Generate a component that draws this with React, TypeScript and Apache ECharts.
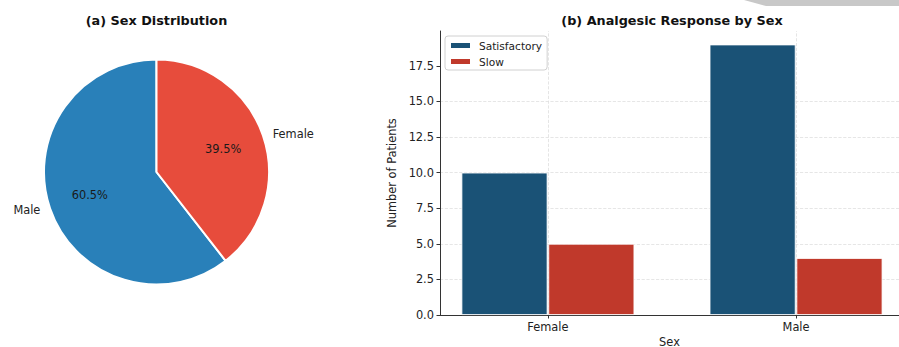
import React, { useEffect, useRef } from 'react';
import * as echarts from 'echarts';

const sexLabels = ['Male', 'Female'];
const sexCounts = [23, 15];
const sexColors = ['#2980b9', '#e74c3c'];

const categories = ['Female', 'Male'];
const satisfactory = [10, 19];
const slow = [5, 4];
const yTicks = [0, 2.5, 5, 7.5, 10, 12.5, 15, 17.5];
const barOffset = 0.175;

const FONT = '"DejaVu Sans", "Liberation Sans", sans-serif';

export default function App() {
  const ref = useRef<HTMLDivElement>(null);
  useEffect(() => {
    if (!ref.current) return;
    const chart = echarts.init(ref.current, undefined, { renderer: 'svg' });
    const total = sexCounts.reduce((a, b) => a + b, 0);
    const pieData = sexLabels.map((n, i) => ({ name: n, value: sexCounts[i], itemStyle: { color: sexColors[i] } }));
    chart.setOption({
      animation: false,
      textStyle: { fontFamily: FONT },
      graphic: [
        {
          type: 'text', x: 156.5, y: 20, z: 10,
          style: { text: '(a) Sex Distribution', fontFamily: FONT, fontWeight: 'bold', fontSize: 12.8, fill: '#111', align: 'center', verticalAlign: 'middle' },
        },
        {
          type: 'text', x: 672, y: 20, z: 10,
          style: { text: '(b) Analgesic Response by Sex', fontFamily: FONT, fontWeight: 'bold', fontSize: 12.8, fill: '#111', align: 'center', verticalAlign: 'middle' },
        },
        {
          type: 'polygon', z: 10,
          shape: { points: [[744, 0], [899, 0], [899, 6], [766, 6]] },
          style: { fill: '#c8c8c8' },
        },
      ],
      legend: {
        data: ['Satisfactory', 'Slow'],
        orient: 'vertical',
        left: 445,
        top: 36,
        icon: 'rect',
        itemWidth: 21,
        itemHeight: 7,
        itemGap: 5,
        padding: [4, 5, 3, 4],
        backgroundColor: '#fff',
        borderColor: '#d0d0d0',
        borderWidth: 1,
        borderRadius: 3,
        textStyle: { fontFamily: FONT, fontSize: 10.6, color: '#222', padding: [0, 0, 0, 3] },
      },
      grid: { left: 440, right: 0, top: 31, bottom: 32, outerBoundsMode: 'none' },
      xAxis: {
        type: 'value',
        min: -0.435,
        max: 1.415,
        name: 'Sex',
        nameLocation: 'middle',
        nameGap: 21,
        nameTextStyle: { fontFamily: FONT, fontSize: 11.4, color: '#222' },
        axisLine: { show: true, onZero: false, lineStyle: { color: '#333', width: 1 } },
        axisTick: { show: true, length: 3.5, lineStyle: { color: '#333' }, customValues: categories.map((_, i) => i) },
        axisLabel: {
          customValues: categories.map((_, i) => i),
          formatter: (v: number) => categories[Math.round(v)] ?? '',
          fontFamily: FONT, fontSize: 11.4, color: '#222', margin: 6,
        },
        splitLine: { show: false },
      },
      yAxis: {
        type: 'value',
        min: 0,
        max: 19.95,
        interval: 2.5,
        name: 'Number of Patients',
        nameLocation: 'middle',
        nameGap: 40,
        nameTextStyle: { fontFamily: FONT, fontSize: 11.4, color: '#222' },
        axisLine: { show: true, onZero: false, lineStyle: { color: '#333', width: 1 } },
        axisTick: { show: true, length: 3.5, lineStyle: { color: '#333' }, customValues: yTicks },
        axisLabel: {
          customValues: yTicks,
          formatter: (v: number) => v.toFixed(1),
          fontFamily: FONT, fontSize: 11.4, color: '#222', margin: 6,
        },
        splitLine: { show: true, showMaxLine: false, lineStyle: { type: 'dashed', color: '#e0e0e0', width: 0.8 } },
      },
      series: [
        {
          type: 'pie',
          center: [156.5, 172],
          radius: 112.5,
          startAngle: 90,
          clockwise: false,
          avoidLabelOverlap: false,
          data: pieData,
          itemStyle: { borderColor: '#fff', borderWidth: 2 },
          label: { show: true, position: 'outside', formatter: '{b}', fontFamily: FONT, fontSize: 11.4, color: '#222' },
          labelLine: { show: false, length: 5, length2: 0 },
          emphasis: { disabled: true },
        },
        {
          type: 'pie',
          center: [156.5, 172],
          radius: [0, 135],
          startAngle: 90,
          clockwise: false,
          silent: true,
          avoidLabelOverlap: false,
          data: pieData.map((d) => ({ ...d, itemStyle: { color: 'rgba(0,0,0,0)' } })),
          label: {
            show: true, position: 'inside',
            formatter: (p: any) => ((p.value / total) * 100).toFixed(1) + '%',
            fontFamily: FONT, fontSize: 11.4, color: '#1a1a1a',
          },
          labelLine: { show: false },
          emphasis: { disabled: true },
        },
        {
          type: 'bar',
          name: 'Satisfactory',
          z: 3,
          data: categories.map((_, i) => [i - barOffset, satisfactory[i]]),
          barWidth: 86,
          barGap: '-100%',
          itemStyle: { color: '#1a5276', borderColor: '#fff', borderWidth: 0.8 },
          markLine: {
            silent: true,
            symbol: 'none',
            z: 1,
            label: { show: false },
            emphasis: { disabled: true },
            lineStyle: { type: 'dashed', color: '#dedede', width: 0.8 },
            data: categories.map((_, i) => ({ xAxis: i })),
          },
        },
        {
          type: 'bar',
          name: 'Slow',
          z: 3,
          data: categories.map((_, i) => [i + barOffset, slow[i]]),
          barWidth: 86,
          barGap: '-100%',
          itemStyle: { color: '#c0392b', borderColor: '#fff', borderWidth: 0.8 },
        },
      ],
    });
    return () => chart.dispose();
  }, []);
  return <div ref={ref} style={{ position: 'fixed', left: 0, top: 0, width: 899, height: 347, background: '#fff' }} />;
}
